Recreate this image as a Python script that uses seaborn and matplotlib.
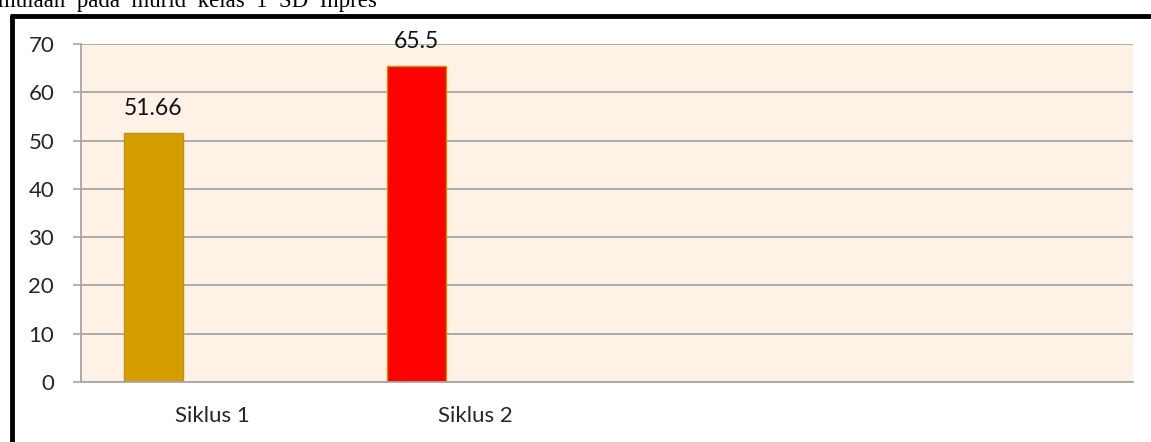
import pandas as pd
import matplotlib.pyplot as plt
import seaborn as sns
from matplotlib.lines import Line2D

# ---------------------------------------------------------------------------
# Data
# ---------------------------------------------------------------------------

categories = ["Siklus 1", "Siklus 2"]
values = [51.66, 65.5]
value_labels = ["51.66", "65.5"]
series = ["Seri 1", "Seri 1"]
series_order = ["Seri 1", "Seri 2", "Seri 3"]
bar_colors = ["#D49E00", "#FF0000"]
y_ticks = [0, 10, 20, 30, 40, 50, 60, 70]
page_text = "mulaan  pada  murid  kelas  1  SD  Inpres"

# ---------------------------------------------------------------------------
# Style
# ---------------------------------------------------------------------------

sns.set_theme(style="white")
plt.rcParams["font.family"] = ["Lato", "DejaVu Sans"]

df = pd.DataFrame({"siklus": categories, "nilai": values, "seri": series})

fig = plt.figure(figsize=(11.51, 4.42), dpi=100)
ax = fig.add_axes([81 / 1151, 1 - 382 / 442, (1133 - 81) / 1151, (382 - 44) / 442])
ax.set_facecolor("#FEF1E6")

sns.barplot(
    data=df,
    x="siklus",
    y="nilai",
    hue="seri",
    hue_order=series_order,
    order=categories,
    width=0.672,
    dodge=True,
    legend=False,
    ax=ax,
)

bars = [p for p in ax.patches if p.get_height() > 0]
bars.sort(key=lambda p: p.get_x())
for bar, color, label in zip(bars, bar_colors, value_labels):
    bar.set_facecolor(color)
    bar.set_edgecolor("#C8900A")
    bar.set_linewidth(1)
    ax.annotate(
        label,
        (bar.get_x() + bar.get_width() / 2, bar.get_height()),
        xytext=(0, 17.5),
        textcoords="offset points",
        ha="center",
        va="center",
        fontsize=16.5,
        color="#111111",
    )

# axes, grid, ticks
ax.set_xlim(-0.5, 3.5)
ax.set_ylim(0, 70)
ax.set_yticks(y_ticks)
ax.set_yticklabels([str(t) for t in y_ticks], fontsize=16)
ax.yaxis.grid(True, color="#A6A6A6", linewidth=1.3)
ax.set_axisbelow(True)

ax.set_xticks([0, 1])
ax.set_xticklabels(categories, fontsize=16)
ax.set_xticks([-0.5, 0.5, 1.5, 2.5, 3.5], minor=True)
ax.tick_params(axis="x", which="major", length=0, pad=17)
ax.tick_params(axis="x", which="minor", length=6, width=1.2, color="#A6A6A6", direction="out")
ax.tick_params(axis="y", length=5.8, width=1.2, color="#A6A6A6", pad=13.5, direction="out", left=True)

ax.set_xlabel("")
ax.set_ylabel("")
for side in ["top", "right"]:
    ax.spines[side].set_visible(False)
for side in ["left", "bottom"]:
    ax.spines[side].set_color("#A6A6A6")
    ax.spines[side].set_linewidth(1.3)

# border of the chart box and page text above it
fig.add_artist(Line2D([12 / 1151, 12 / 1151], [0, 1 - 15 / 442], color="black", linewidth=3.5,
                      transform=fig.transFigure, solid_capstyle="butt"))
fig.add_artist(Line2D([10 / 1151, 1], [1 - 15.5 / 442, 1 - 15.5 / 442], color="black", linewidth=3.5,
                      transform=fig.transFigure, solid_capstyle="butt"))
fig.text(-2 / 1151, 1 - 7 / 442, page_text, family=["Liberation Serif"], fontsize=16.5,
         ha="left", va="baseline", color="black")

fig.savefig("out.png", dpi=100)
